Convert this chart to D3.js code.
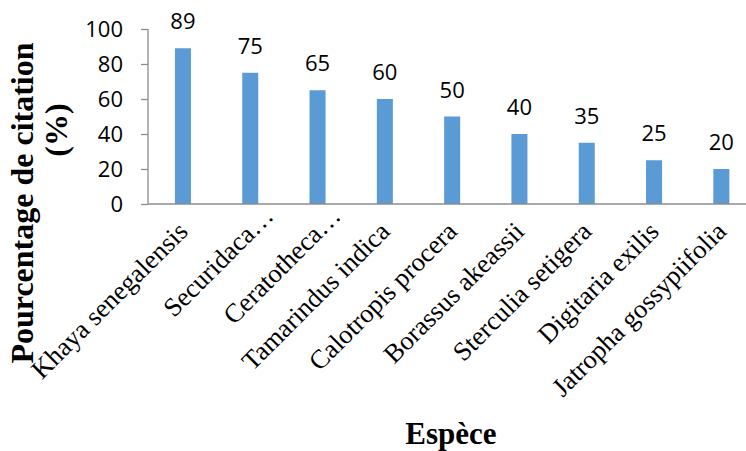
<!DOCTYPE html>
<html>
<head>
<meta charset="utf-8">
<script src="https://cdn.jsdelivr.net/npm/d3@7"></script>
<style>
  html, body { margin: 0; padding: 0; background: #fff; }
  svg { display: block; }
</style>
</head>
<body>
<svg id="chart" width="746" height="451"></svg>
<script>
// Species and their citation percentages
const categories = [
  "Khaya senegalensis",
  "Securidaca…",
  "Ceratotheca…",
  "Tamarindus indica",
  "Calotropis procera",
  "Borassus akeassii",
  "Sterculia setigera",
  "Digitaria exilis",
  "Jatropha gossypiifolia"
];
const values = [89, 75, 65, 60, 50, 40, 35, 25, 20];
const yTicks = [0, 20, 40, 60, 80, 100];
const yTitleLines = ["Pourcentage de citation", "(%)"];
const xTitle = "Espèce";

const svg = d3.select("#chart");
const axisColor = "#8c8c8c";
const barColor = "#5b9bd5";
const numFont = "'Open Sans', sans-serif";
const serif = "'Liberation Serif', 'Times New Roman', serif";

const plot = { left: 148, right: 755, top: 29, bottom: 204 };

const x = d3.scaleBand()
  .domain(categories)
  .range([plot.left + 1.3, plot.right])
  .paddingInner(0.762)
  .paddingOuter(0.381);

const y = d3.scaleLinear()
  .domain([0, 100])
  .range([plot.bottom, plot.top]);

// Bars
svg.append("g")
  .selectAll("rect")
  .data(values)
  .join("rect")
  .attr("x", (d, i) => x(categories[i]))
  .attr("y", d => y(d))
  .attr("width", x.bandwidth())
  .attr("height", d => y(0) - y(d))
  .attr("fill", barColor);

// Value labels above the bars
svg.append("g")
  .selectAll("text")
  .data(values)
  .join("text")
  .attr("x", (d, i) => x(categories[i]) + x.bandwidth() / 2)
  .attr("y", d => y(d) - 19)
  .attr("text-anchor", "middle")
  .attr("font-family", numFont)
  .attr("font-size", 22)
  .attr("fill", "#000")
  .text(d => d);

// Y axis
const yAxis = d3.axisLeft(y)
  .tickValues(yTicks)
  .tickSize(7)
  .tickPadding(18)
  .tickFormat(d3.format("d"));

const gy = svg.append("g")
  .attr("transform", `translate(${plot.left},0)`)
  .call(yAxis);
gy.select(".domain").attr("stroke", axisColor).attr("stroke-width", 1.3)
  .attr("d", `M0,${plot.top}V${plot.bottom}`);
gy.selectAll(".tick line").attr("stroke", axisColor).attr("stroke-width", 1.3);
gy.selectAll(".tick text")
  .attr("font-family", numFont)
  .attr("font-size", 22)
  .attr("fill", "#000");

// X axis baseline (no tick marks)
const xAxis = d3.axisBottom(x).tickSize(0).tickFormat("");
const gx = svg.append("g")
  .attr("transform", `translate(0,${plot.bottom})`)
  .call(xAxis);
gx.select(".domain").attr("stroke", axisColor).attr("stroke-width", 1.3)
  .attr("d", `M${plot.left},0H${plot.right}`);

// Rotated category labels; clipped names keep the full label box width
const labels = svg.append("g");
categories.forEach(name => {
  const cx = x(name) + x.bandwidth() / 2;
  const clipped = name.endsWith("…");
  labels.append("text")
    .attr("transform", `translate(${cx},${plot.bottom}) rotate(-45)`)
    .attr("x", clipped ? 8 : -16)
    .attr("y", clipped ? 27 : 25)
    .attr("text-anchor", "end")
    .attr("font-family", serif)
    .attr("font-size", 26.5)
    .attr("fill", "#000")
    .text(name);
});

// Y axis title (two lines)
svg.append("text")
  .attr("transform", "translate(33,203) rotate(-90)")
  .attr("text-anchor", "middle")
  .attr("font-family", serif)
  .attr("font-weight", "bold")
  .attr("font-size", 32)
  .attr("fill", "#000")
  .text(yTitleLines[0]);
svg.append("text")
  .attr("transform", "translate(67,130) rotate(-90)")
  .attr("text-anchor", "middle")
  .attr("font-family", serif)
  .attr("font-weight", "bold")
  .attr("font-size", 32)
  .attr("fill", "#000")
  .text(yTitleLines[1]);

// X axis title
svg.append("text")
  .attr("x", 451)
  .attr("y", 444)
  .attr("text-anchor", "middle")
  .attr("font-family", serif)
  .attr("font-weight", "bold")
  .attr("font-size", 31)
  .attr("fill", "#000")
  .text(xTitle);
</script>
</body>
</html>
